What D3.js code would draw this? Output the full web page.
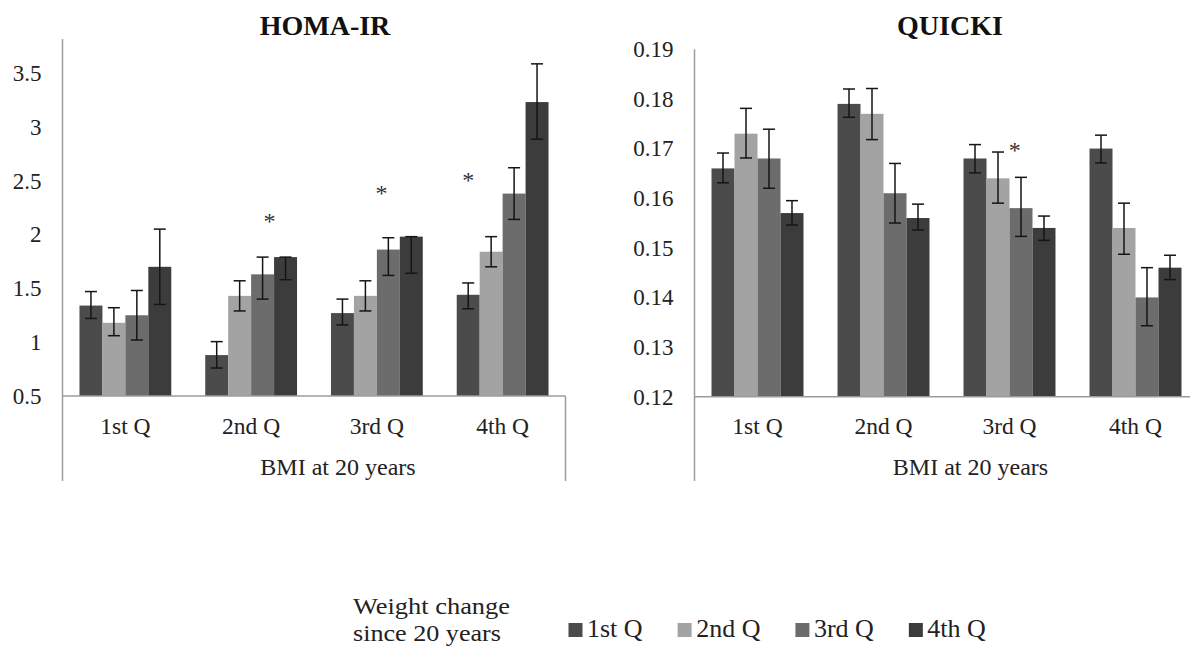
<!DOCTYPE html>
<html>
<head>
<meta charset="utf-8">
<script src="https://cdn.jsdelivr.net/npm/d3@7"></script>
<style>
body { margin: 0; background: #fff; }
</style>
</head>
<body>
<svg id="chart" width="1190" height="649"></svg>
<script>
// categories on the x axis (BMI at 20 years) and series (weight change)
var categories = ["1st Q", "2nd Q", "3rd Q", "4th Q"];
var seriesNames = ["1st Q", "2nd Q", "3rd Q", "4th Q"];
var seriesColors = ["#4b4b4b", "#a3a3a3", "#6c6c6c", "#3c3c3c"];

// HOMA-IR means, one array per weight change quartile
var homaQ1 = [1.34, 0.88, 1.27, 1.44];
var homaQ2 = [1.18, 1.43, 1.43, 1.84];
var homaQ3 = [1.25, 1.63, 1.86, 2.38];
var homaQ4 = [1.70, 1.79, 1.98, 3.23];
// error bar extents above / below the mean
var homaUpQ1 = [0.13, 0.125, 0.13, 0.11];
var homaUpQ2 = [0.14, 0.14, 0.14, 0.14];
var homaUpQ3 = [0.23, 0.16, 0.11, 0.24];
var homaUpQ4 = [0.35, 0, 0, 0.355];
var homaDnQ1 = [0.12, 0.12, 0.11, 0.13];
var homaDnQ2 = [0.12, 0.14, 0.14, 0.14];
var homaDnQ3 = [0.23, 0.23, 0.24, 0.24];
var homaDnQ4 = [0.35, 0.21, 0.34, 0.345];
var homaTicks = [0.5, 1, 1.5, 2, 2.5, 3, 3.5];
// significance marks: category, position in bar units, value
var homaStarCat = ["2nd Q", "3rd Q", "4th Q"];
var homaStarAt = [2.8, 2.2, 0.5];
var homaStarVal = [2.16, 2.42, 2.54];

// QUICKI means
var quickiQ1 = [0.166, 0.179, 0.168, 0.170];
var quickiQ2 = [0.173, 0.177, 0.164, 0.154];
var quickiQ3 = [0.168, 0.161, 0.158, 0.140];
var quickiQ4 = [0.157, 0.156, 0.154, 0.146];
var quickiUpQ1 = [0.0031, 0.0030, 0.0028, 0.0027];
var quickiUpQ2 = [0.0051, 0.0051, 0.0053, 0.0050];
var quickiUpQ3 = [0.0059, 0.0060, 0.0062, 0.0060];
var quickiUpQ4 = [0.0025, 0.0028, 0.0024, 0.0025];
var quickiDnQ1 = [0.0029, 0.0027, 0.0029, 0.0029];
var quickiDnQ2 = [0.0049, 0.0052, 0.0050, 0.0053];
var quickiDnQ3 = [0.0060, 0.0060, 0.0057, 0.0057];
var quickiDnQ4 = [0.0024, 0.0024, 0.0025, 0.0024];
var quickiTicks = [0.12, 0.13, 0.14, 0.15, 0.16, 0.17, 0.18, 0.19];
var quickiStarCat = ["3rd Q"];
var quickiStarAt = [2.23];
var quickiStarVal = [0.1705];

var FONT = "'Liberation Serif', Tinos, 'DejaVu Serif', serif";
var svg = d3.select("#chart");

drawPanel({
	title: "HOMA-IR", titleX: 325,
	left: 62.5, slot: 125.75, top: 39, bottom: 396, floor: 481,
	domain: [0.5, 3.5], yTop: 73,
	ticks: homaTicks, fmt: d3.format("~g"),
	values: [homaQ1, homaQ2, homaQ3, homaQ4],
	up: [homaUpQ1, homaUpQ2, homaUpQ3, homaUpQ4],
	dn: [homaDnQ1, homaDnQ2, homaDnQ3, homaDnQ4],
	starCat: homaStarCat, starAt: homaStarAt, starVal: homaStarVal
});

drawPanel({
	title: "QUICKI", titleX: 950,
	left: 694.5, slot: 126, top: 49.3, bottom: 396.7, floor: 481,
	domain: [0.12, 0.19], yTop: 49.3,
	ticks: quickiTicks, fmt: d3.format(".2f"),
	values: [quickiQ1, quickiQ2, quickiQ3, quickiQ4],
	up: [quickiUpQ1, quickiUpQ2, quickiUpQ3, quickiUpQ4],
	dn: [quickiDnQ1, quickiDnQ2, quickiDnQ3, quickiDnQ4],
	starCat: quickiStarCat, starAt: quickiStarAt, starVal: quickiStarVal
});

function drawPanel(p)
{
	var right = p.left + categories.length * p.slot;
	var x = d3.scaleBand()
		.domain(categories)
		.range([p.left, right])
		.paddingInner(0.27)
		.paddingOuter(0.135);
	var xs = d3.scaleBand()
		.domain(d3.range(seriesNames.length))
		.range([0, x.bandwidth()]);
	var y = d3.scaleLinear()
		.domain(p.domain)
		.range([p.bottom, p.yTop]);

	var g = svg.append("g");

	// bars
	p.values.forEach(function(vals, i) {
		g.selectAll(null).data(vals).enter().append("rect")
			.attr("x", function(d, j) { return x(categories[j]) + xs(i); })
			.attr("y", function(d) { return y(d); })
			.attr("width", xs.bandwidth())
			.attr("height", function(d) { return p.bottom - y(d); })
			.style("fill", seriesColors[i]);
	});

	// error bars
	p.values.forEach(function(vals, i) {
		var eb = g.selectAll(null).data(vals).enter().append("g")
			.attr("transform", function(d, j) {
				return "translate(" + (x(categories[j]) + xs(i) + xs.bandwidth() / 2) + ",0)";
			})
			.style("stroke", "#151515")
			.style("stroke-width", 1.5);
		eb.append("line")
			.attr("y1", function(d, j) { return y(d + p.up[i][j]); })
			.attr("y2", function(d, j) { return y(d - p.dn[i][j]); });
		eb.append("line")
			.attr("x1", -6).attr("x2", 6)
			.attr("y1", function(d, j) { return y(d + p.up[i][j]); })
			.attr("y2", function(d, j) { return y(d + p.up[i][j]); });
		eb.append("line")
			.attr("x1", -6).attr("x2", 6)
			.attr("y1", function(d, j) { return y(d - p.dn[i][j]); })
			.attr("y2", function(d, j) { return y(d - p.dn[i][j]); });
	});

	// axis lines
	var axisColor = "#9c9c9c";
	g.append("line").attr("x1", p.left).attr("x2", p.left).attr("y1", p.top).attr("y2", p.floor)
		.style("stroke", axisColor).style("stroke-width", 1.5);
	g.append("line").attr("x1", p.left).attr("x2", right).attr("y1", p.bottom).attr("y2", p.bottom)
		.style("stroke", axisColor).style("stroke-width", 1.5);
	g.append("line").attr("x1", right).attr("x2", right).attr("y1", p.bottom).attr("y2", p.floor)
		.style("stroke", axisColor).style("stroke-width", 1.5);

	// y tick labels
	var yAxis = d3.axisLeft(y).tickValues(p.ticks).tickFormat(p.fmt).tickSize(0).tickPadding(21);
	var ya = g.append("g").attr("transform", "translate(" + p.left + ",0)").call(yAxis);
	ya.select(".domain").remove();
	ya.attr("font-family", FONT).attr("font-size", 23);
	ya.selectAll("text").attr("fill", "#222");

	// category labels
	var xAxis = d3.axisBottom(x).tickSize(0).tickPadding(21);
	var xa = g.append("g").attr("transform", "translate(0," + p.bottom + ")").call(xAxis);
	xa.select(".domain").remove();
	xa.attr("font-family", FONT).attr("font-size", 23.5);
	xa.selectAll("text").attr("fill", "#222");

	g.append("text")
		.attr("x", (p.left + right) / 2 + 24)
		.attr("y", 475)
		.attr("text-anchor", "middle")
		.attr("font-family", FONT)
		.attr("font-size", 24)
		.attr("fill", "#222")
		.text("BMI at 20 years");

	// title
	g.append("text")
		.attr("x", p.titleX)
		.attr("y", 35)
		.attr("text-anchor", "middle")
		.attr("font-family", FONT)
		.attr("font-size", 28)
		.attr("font-weight", "bold")
		.attr("fill", "#111")
		.text(p.title);

	// significance stars
	g.selectAll(null).data(p.starVal).enter().append("text")
		.attr("x", function(d, k) { return x(p.starCat[k]) + p.starAt[k] * xs.bandwidth(); })
		.attr("y", function(d) { return y(d) + 12; })
		.attr("text-anchor", "middle")
		.attr("font-family", FONT)
		.attr("font-size", 24)
		.attr("fill", "#333")
		.text("*");
}

// legend
var legend = svg.append("g")
	.attr("font-family", FONT)
	.attr("fill", "#222");
legend.append("text").attr("x", 353).attr("y", 614)
	.attr("font-size", 23).attr("textLength", 157).attr("lengthAdjust", "spacingAndGlyphs")
	.text("Weight change");
legend.append("text").attr("x", 353).attr("y", 641)
	.attr("font-size", 23).attr("textLength", 148).attr("lengthAdjust", "spacingAndGlyphs")
	.text("since 20 years");

var lx = 568.5;
seriesNames.forEach(function(name, i) {
	legend.append("rect")
		.attr("x", lx).attr("y", 623)
		.attr("width", 14).attr("height", 14)
		.style("fill", seriesColors[i]);
	var t = legend.append("text")
		.attr("x", lx + 18.5).attr("y", 637)
		.attr("font-size", 26)
		.text(name);
	lx = lx + 18.5 + t.node().getComputedTextLength() + 35;
});
</script>
</body>
</html>
